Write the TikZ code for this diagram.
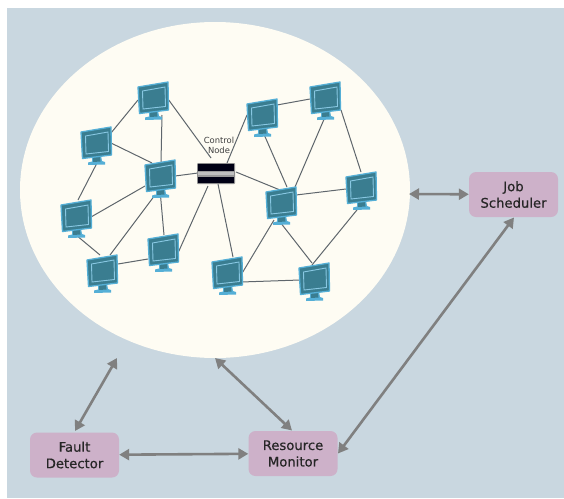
\documentclass[tikz,border=0pt]{standalone}
\usepackage{fontspec}
\setmainfont{DejaVu Sans}
\newfontfamily\boxfont[FakeBold=0.5]{DejaVu Sans}
\usetikzlibrary{arrows.meta,shapes.geometric}
\definecolor{bgblue}{HTML}{C9D7E0}
\definecolor{cloudc}{HTML}{FEFCF3}
\definecolor{boxc}{HTML}{CDB1C9}
\definecolor{monbody}{HTML}{3A7D90}
\definecolor{monedge}{HTML}{55AFD6}
\definecolor{arrowc}{HTML}{808080}
\definecolor{linkc}{HTML}{5F666C}
\tikzset{
  x=1pt,y=-1pt,
  mon/.style={minimum width=29pt,minimum height=30pt,inner sep=0pt,outer sep=0pt},
  linkline/.style={draw=linkc,line width=1pt},
  bigarrow/.style={draw=arrowc,line width=2.6pt,{Triangle[length=10pt,width=11pt]}-{Triangle[length=10pt,width=11pt]}},
  rolebox/.style={fill=boxc,rounded corners=7pt,minimum width=89pt,minimum height=45pt,inner sep=0pt,align=center,font=\boxfont\fontsize{13.2}{16.5}\selectfont,text=black!85},
}
\newcommand{\drawmon}[1]{%
  \begin{scope}[shift={(#1)}]
    \fill[monedge] (-4,14) -- (5,13) -- (6,18) -- (9,19) -- (9,21.5) -- (-8,22) -- (-8,19.5) -- (-4,18.5) -- cycle;
    \fill[monbody] (-3,14) -- (4,14) -- (4.5,18.5) -- (-3,19) -- cycle;
    \filldraw[fill=monbody,draw=monedge,line width=1.3pt,line join=round] (-15,-11) -- (15,-16) -- (15.5,12) -- (-13.5,15.5) -- cycle;
    \draw[draw=monedge!70!white,line width=0.9pt] (-10.5,-7) -- (12,-11) -- (12.5,8.5) -- (-10,11) -- cycle;
  \end{scope}}
\newcommand{\netlink}[6]{\draw[linkline] ([shift={(#2,#3)}]#1.center) -- ([shift={(#5,#6)}]#4.center);}
\begin{document}
\begin{tikzpicture}
\useasboundingbox (0,0) rectangle (564,498);
\fill[white] (0,0) rectangle (564,498);
\fill[bgblue] (7,8) rectangle (564,498);
\node[ellipse,fill=cloudc,minimum width=390pt,minimum height=336pt,inner sep=0pt] (cloud) at (215,190) {};
% monitors
\node[mon] (A) at (153,98) {};
\node[mon] (B) at (96,143) {};
\node[mon] (C) at (160,176) {};
\node[mon] (D) at (76,216) {};
\node[mon] (E) at (102,271) {};
\node[mon] (F) at (163,250) {};
\node[mon] (G) at (227,273) {};
\node[mon] (H) at (262,115) {};
\node[mon] (I) at (325,98) {};
\node[mon] (J) at (281,203) {};
\node[mon] (K) at (361,188) {};
\node[mon] (L) at (314,279) {};
\node[minimum width=38pt,minimum height=20pt,inner sep=0pt] (S) at (216,173) {};
% links
\netlink{A}{-15}{2}{B}{15}{-10}
\netlink{A}{15}{1}{S}{-5}{-15}
\netlink{A}{9}{17}{C}{1}{-14}
\netlink{B}{15}{0}{C}{-8}{-13}
\netlink{B}{1}{20}{D}{2}{-16}
\netlink{C}{-15}{10}{D}{15}{1}
\netlink{C}{-5}{19}{E}{8}{-16}
\netlink{C}{0}{14}{F}{1}{-15}
\netlink{C}{15}{0}{S}{-18}{0}
\netlink{D}{0}{19}{E}{-2}{-16}
\netlink{E}{16}{-7}{F}{-15}{9}
\netlink{F}{15}{3}{S}{-8}{13}
\netlink{S}{2}{11}{G}{6}{-16}
\netlink{S}{11}{-10}{H}{-15}{0}
\netlink{S}{20}{-1}{J}{-1}{-13}
\netlink{H}{15}{-10}{I}{-15}{1}
\netlink{H}{1}{17}{J}{6}{-16}
\netlink{I}{0}{19}{J}{14}{-16}
\netlink{I}{16}{12}{K}{0}{-16}
\netlink{J}{15}{-8}{K}{-15}{1}
\netlink{J}{-7}{17}{G}{14}{2}
\netlink{J}{-1}{19}{L}{-2}{-16}
\netlink{K}{0}{17}{L}{-2}{-14}
\netlink{G}{14}{9}{L}{-14}{1}
% monitor drawings
\drawmon{153,98}\drawmon{96,143}\drawmon{160,176}\drawmon{76,216}\drawmon{102,271}\drawmon{163,250}
\drawmon{227,273}\drawmon{262,115}\drawmon{325,98}\drawmon{281,203}\drawmon{361,188}\drawmon{314,279}
% switch
\fill[black!45,rounded corners=1pt] (197,163) rectangle (235,184);
\fill[black!92!blue] (198,164) rectangle (234,183);
\fill[black!40] (198,170.5) rectangle (234,176.5);
\fill[white!75!black] (198,172) rectangle (234,175);
\node[align=center,font=\fontsize{8.4}{10}\selectfont,text=black!75,inner sep=0pt] (ctl) at (219,145) {Control\\Node};
% role boxes
\node[rolebox] (fd) at (74.5,455) {Fault\\Detector};
\node[rolebox] (rm) at (293,453.5) {Resource\\Monitor};
\node[rolebox] (js) at (513.5,194.5) {Job\\Scheduler};
\coordinate (c1) at (117,358);
\coordinate (c2) at (215,358);
\coordinate (c3) at (409,194);
\draw[bigarrow] ([shift={(0.5,-24)}]fd.center) -- (c1);
\draw[bigarrow] (c2) -- ([shift={(-1,-23)}]rm.center);
\draw[bigarrow] (fd) -- (rm);
\draw[bigarrow] ([shift={(45,0)}]rm.center) -- ([shift={(0.5,23)}]js.center);
\draw[bigarrow] (c3) -- (js);
\end{tikzpicture}
\end{document}
